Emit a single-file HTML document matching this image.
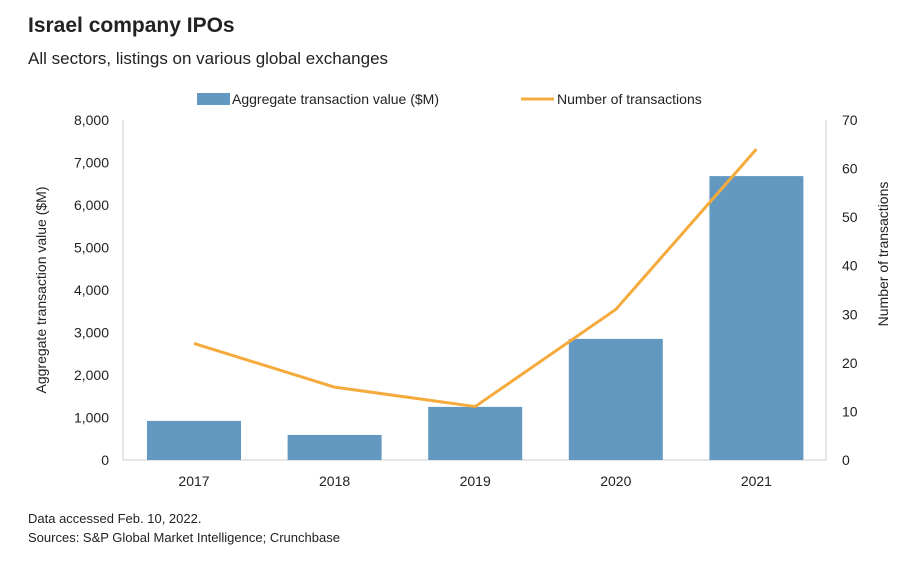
<!DOCTYPE html>
<html><head><meta charset="utf-8"><style>
body{margin:0;background:#fff;width:916px;height:562px;overflow:hidden;font-family:"Liberation Sans",sans-serif;}
</style></head><body>
<svg width="916" height="562" font-family="Liberation Sans, sans-serif">
<text x="28" y="32" font-size="21" font-weight="bold" fill="#222">Israel company IPOs</text>
<text x="28" y="64" font-size="17" fill="#222">All sectors, listings on various global exchanges</text>
<g>
<rect x="197" y="93" width="33" height="12" fill="#6399c0"/>
<text x="232" y="104" font-size="14" fill="#222">Aggregate transaction value ($M)</text>
<line x1="521" y1="99" x2="554" y2="99" stroke="#f5aa3c" stroke-width="3"/>
<text x="557" y="104" font-size="14" fill="#222">Number of transactions</text>
</g>
<line x1="123" y1="120" x2="123" y2="460" stroke="#ccc"/>
<line x1="826" y1="120" x2="826" y2="460" stroke="#ccc"/>
<line x1="123" y1="460" x2="826" y2="460" stroke="#ccc"/>
<g id="ticks"></g><g id="bars"></g><g id="line"></g>
<text transform="translate(46,290) rotate(-90)" text-anchor="middle" font-size="14" fill="#222">Aggregate transaction value ($M)</text>
<text transform="translate(888,254) rotate(-90)" text-anchor="middle" font-size="14" fill="#222">Number of transactions</text>
<text x="28" y="523" font-size="13" fill="#222">Data accessed Feb. 10, 2022.</text>
<text x="28" y="542" font-size="13" fill="#222">Sources: S&amp;P Global Market Intelligence; Crunchbase</text>
</svg>
<script>
const categories=["2017","2018","2019","2020","2021"];
const values=[920,590,1250,2850,6680];
const counts=[24,15,11,31,64];
const leftTicks=[0,1000,2000,3000,4000,5000,6000,7000,8000];
const rightTicks=[0,10,20,30,40,50,60,70];
const NS="http://www.w3.org/2000/svg";
const x0=123,x1=826,y0=460,y1=120,band=(x1-x0)/categories.length;
const xc=i=>x0+band*(i+0.5)+0.7;
const yl=v=>y0-(v/8000)*(y0-y1);
const yr=v=>y0-(v/70)*(y0-y1);
function mk(t,a,p){const e=document.createElementNS(NS,t);for(const k in a)e.setAttribute(k,a[k]);p.appendChild(e);return e;}
const tg=document.getElementById('ticks');
leftTicks.forEach(v=>{const e=mk('text',{x:109,y:yl(v)+5,'text-anchor':'end','font-size':14,fill:'#222'},tg);e.textContent=v.toLocaleString('en-US');

});
rightTicks.forEach(v=>{const e=mk('text',{x:842,y:yr(v)+5,'font-size':14,fill:'#222'},tg);e.textContent=v;

});
categories.forEach((c,i)=>{const e=mk('text',{x:xc(i),y:486,'text-anchor':'middle','font-size':14,fill:'#222'},tg);e.textContent=c;

});
const bg=document.getElementById('bars');
values.forEach((v,i)=>{const w=94;const r=mk('rect',{x:xc(i)-w/2,y:yl(v),width:w,height:y0-yl(v),fill:'#6399c0'},bg);

});
const pl=mk('polyline',{points:counts.map((v,i)=>xc(i)+','+yr(v)).join(' '),fill:'none',stroke:'#f5aa3c','stroke-width':3,'stroke-linejoin':'round'},document.getElementById('line'));


</script>
</body></html>
